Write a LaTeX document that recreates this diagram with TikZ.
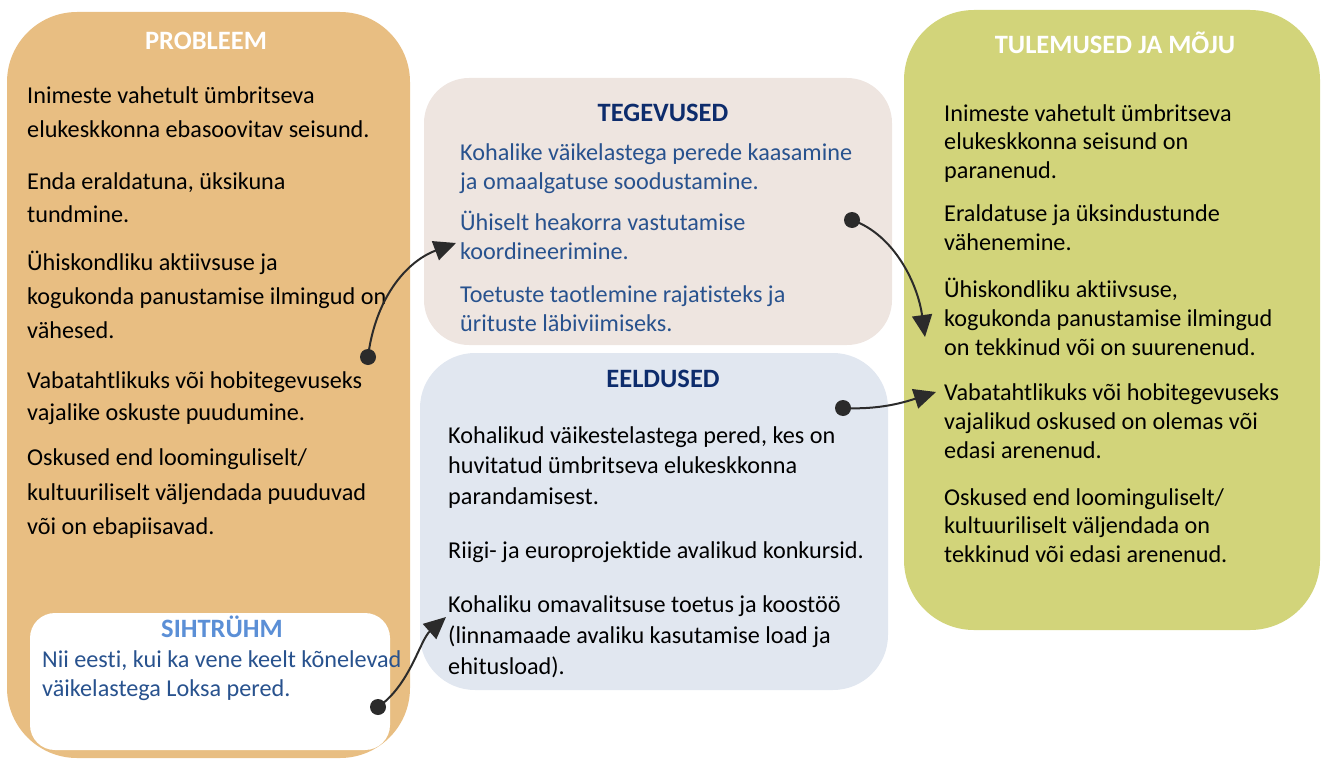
\documentclass[tikz,border=0pt]{standalone}
\usepackage{fontspec}
\setmainfont[Ligatures=NoCommon]{Carlito}
\usetikzlibrary{arrows.meta}
\definecolor{cProb}{HTML}{E8BE82}
\definecolor{cTeg}{HTML}{EEE5E0}
\definecolor{cEel}{HTML}{E1E7F0}
\definecolor{cTul}{HTML}{D2D47A}
\definecolor{cBlue}{HTML}{28528E}
\definecolor{cNavy}{HTML}{0D2C6C}
\definecolor{cLight}{HTML}{5B8FD6}
\definecolor{cLine}{HTML}{2B2B2B}
\tikzset{
  box/.style={draw=none, inner sep=0pt},
  ln/.style={anchor=mid west, inner sep=0pt, yshift=-6pt, font=\fontsize{24.2}{28}\selectfont},
  ttl/.style={anchor=mid, inner sep=0pt, yshift=-5pt, font=\fontsize{26.5}{30}\selectfont\bfseries},
  dot/.style={circle, fill=cLine, inner sep=0pt, minimum size=16pt},
  conn/.style={draw=cLine, line width=2pt, -{Triangle[length=22pt,width=20pt]}},
}
\begin{document}
\begin{tikzpicture}[x=1pt,y=-1pt]
\useasboundingbox (0,0) rectangle (1325,760);
% boxes
\node[box, fill=cProb, rounded corners=70pt, minimum width=403pt, minimum height=746pt] (prob) at (208.5,385) {};
\node[box, fill=white, rounded corners=25pt, minimum width=360pt, minimum height=137pt] (siht) at (210,681.5) {};
\node[box, fill=cTeg, rounded corners=45pt, minimum width=468pt, minimum height=267pt] (teg) at (658,211.5) {};
\node[box, fill=cEel, rounded corners=55pt, minimum width=468pt, minimum height=337pt] (eel) at (654,521.5) {};
\node[box, fill=cTul, rounded corners=70pt, minimum width=416pt, minimum height=620pt] (tul) at (1112,320) {};
% titles
\node[ttl, text=white] (tprob) at (206,42) {PROBLEEM};
\node[ttl, text=cLight] (tsiht) at (222,630) {SIHTRÜHM};
\node[ttl, text=cNavy] (tteg) at (663,114) {TEGEVUSED};
\node[ttl, text=cNavy] (teel) at (663,380) {EELDUSED};
\node[ttl, text=white] (ttul) at (1115,46) {TULEMUSED JA MÕJU};
% PROBLEEM text
\foreach \y/\t in {95/{Inimeste vahetult ümbritseva},129/{elukeskkonna ebasoovitav seisund.},
  181/{Enda eraldatuna, üksikuna},214/{tundmine.},
  262/{Ühiskondliku aktiivsuse ja},296/{kogukonda panustamise ilmingud on},330/{vähesed.},
  380/{Vabatahtlikuks või hobitegevuseks},412/{vajalike oskuste puudumine.},
  457/{Oskused end loominguliselt/},492/{kultuuriliselt väljendada puuduvad},526/{või on ebapiisavad.}}
  \node[ln] (p\y) at (27,\y) {\t};
% SIHTRÜHM text
\foreach \y/\t in {659/{Nii eesti, kui ka vene keelt kõnelevad},688/{väikelastega Loksa pered.}}
  \node[ln, text=cBlue] (s\y) at (42,\y) {\t};
% TEGEVUSED text
\foreach \y/\t in {152/{Kohalike väikelastega perede kaasamine},181/{ja omaalgatuse soodustamine.},
  222/{Ühiselt heakorra vastutamise},251/{koordineerimine.},
  294/{Toetuste taotlemine rajatisteks ja},323/{ürituste läbiviimiseks.}}
  \node[ln, text=cBlue] (g\y) at (460,\y) {\t};
% EELDUSED text
\foreach \y/\t in {435/{Kohalikud väikestelastega pered, kes on},465/{huvitatud ümbritseva elukeskkonna},496/{parandamisest.},
  550/{Riigi- ja europrojektide avalikud konkursid.},
  604/{Kohaliku omavalitsuse toetus ja koostöö},635/{(linnamaade avaliku kasutamise load ja},666/{ehitusload).}}
  \node[ln] (e\y) at (448,\y) {\t};
% TULEMUSED text
\foreach \y/\t in {113/{Inimeste vahetult ümbritseva},141/{elukeskkonna seisund on},170/{paranenud.},
  213/{Eraldatuse ja üksindustunde},242/{vähenemine.},
  289/{Ühiskondliku aktiivsuse,},318/{kogukonda panustamise ilmingud},347/{on tekkinud või on suurenenud.},
  392/{Vabatahtlikuks või hobitegevuseks},421/{vajalikud oskused on olemas või},450/{edasi arenenud.},
  497/{Oskused end loominguliselt/},525/{kultuuriliselt väljendada on},554/{tekkinud või edasi arenenud.}}
  \node[ln] (r\y) at (944,\y) {\t};
% connectors
\node[dot] (d1) at (368,357) {};
\node[dot] (d2) at (852,220) {};
\node[dot] (d3) at (843,408) {};
\node[dot] (d4) at (378,707) {};
\coordinate (a1) at (456,243);
\coordinate (a2) at (925,337);
\coordinate (a3) at (936,392);
\coordinate (a4) at (446,617);
\draw[conn] (d1.center) .. controls (375,300) and (405,262) .. (a1);
\draw[conn] (d2.center) .. controls (895,235) and (918,285) .. (a2);
\draw[conn] (d3.center) .. controls (880,410) and (905,402) .. (a3);
\draw[conn] (d4.center) .. controls (410,685) and (420,640) .. (a4);
\end{tikzpicture}
\end{document}
